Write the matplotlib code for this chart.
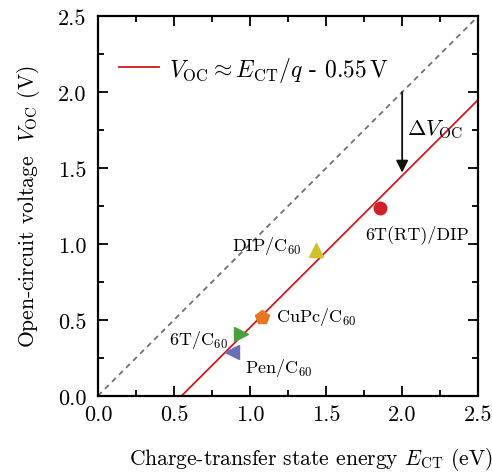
import matplotlib
matplotlib.use('Agg')
import numpy as np
import matplotlib.pyplot as plt

# material systems: CT energy (eV) and open-circuit voltage (V)
names = ['6T(RT)/DIP', 'DIP/C$_{60}$', 'CuPc/C$_{60}$', '6T/C$_{60}$', 'Pen/C$_{60}$']
e_ct = [1.855, 1.434, 1.079, 0.94, 0.88]
v_oc = [1.237, 0.96, 0.52, 0.41, 0.29]
markers = ['o', '^', 'p', '>', '<']
colors = ['#d0202a', '#d4c02a', '#e87722', '#4aa040', '#6a6fb8']

# empirical offset
offset = 0.55
fit_x = [offset, 2.5]
diag = [0.0, 2.5]

plt.rcParams['font.family'] = 'serif'
plt.rcParams['font.serif'] = ['cmr10', 'DejaVu Serif']
plt.rcParams['mathtext.fontset'] = 'cm'
plt.rcParams['axes.unicode_minus'] = False
plt.rcParams['axes.formatter.use_mathtext'] = True

fig = plt.figure(figsize=(4.92, 4.77), dpi=100)
ax = fig.add_axes([0.199, 0.168, 0.773, 0.796])

# y = x reference and the fitted line
ax.plot(diag, diag, ls=(0, (3, 2.5)), color='#707070', lw=1.3)
ax.plot(fit_x, [x - offset for x in fit_x], color='#cc1a1f', lw=1.3,
        label=r'$V_{\rm OC} \approx E_{\rm CT}/q$ - $0.55\,\mathrm{V}$')

for x, y, m, c in zip(e_ct, v_oc, markers, colors):
    ax.plot(x, y, marker=m, color=c, ms=10 if m != 'o' else 9, ls='none', zorder=3)

# labels next to the points
ax.text(1.76, 1.04, names[0], fontsize=13)
ax.text(0.88, 0.96, names[1], fontsize=13)
ax.text(1.17, 0.49, names[2], fontsize=13)
ax.text(0.47, 0.34, names[3], fontsize=13)
ax.text(0.97, 0.16, names[4], fontsize=13)

# arrow showing the voltage loss
ax.annotate('', xy=(2.0, 1.47), xytext=(2.0, 2.0),
            arrowprops=dict(arrowstyle='-|>', color='#111111', lw=1.3,
                            mutation_scale=18, shrinkA=0, shrinkB=0))
ax.text(2.03, 1.72, r'$\Delta V_{\rm OC}$', fontsize=16)

ax.set_xlim(0, 2.5)
ax.set_ylim(0, 2.5)
ax.set_xticks(np.arange(0, 2.51, 0.5))
ax.set_yticks(np.arange(0, 2.51, 0.5))
ax.set_xticks(np.arange(0, 2.51, 0.25), minor=True)
ax.set_yticks(np.arange(0, 2.51, 0.25), minor=True)
ax.xaxis.set_major_formatter(plt.FormatStrFormatter('%.1f'))
ax.yaxis.set_major_formatter(plt.FormatStrFormatter('%.1f'))
ax.tick_params(which='both', direction='in', top=True, right=True, labelsize=16, width=1.3)
ax.tick_params(which='major', length=7)
ax.tick_params(which='minor', length=4)
ax.tick_params(axis='x', pad=6)
ax.tick_params(axis='y', pad=8)
for s in ax.spines.values():
    s.set_linewidth(1.6)

ax.set_xlabel(r'Charge-transfer state energy $E_{\rm CT}$ (eV)', fontsize=15.5)
ax.xaxis.set_label_coords(0.56, -0.13)
ax.set_ylabel(r'Open-circuit voltage  $V_{\rm OC}$ (V)', fontsize=15.5, labelpad=12)

ax.legend(loc='upper left', frameon=False, fontsize=17, handlelength=1.7,
          handletextpad=0.4, bbox_to_anchor=(0.0, 0.955))

fig.savefig('out.png', dpi=100)
